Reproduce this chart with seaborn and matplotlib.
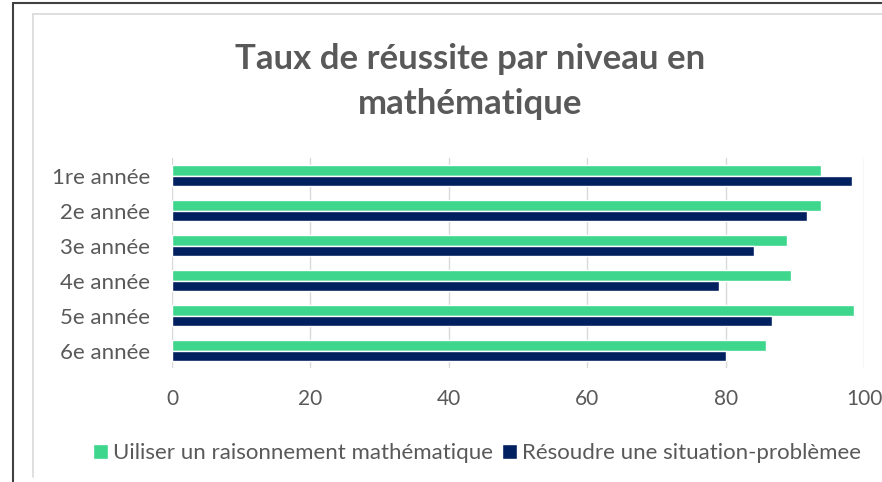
import matplotlib
matplotlib.use('Agg')
import matplotlib.pyplot as plt
import seaborn as sns
import pandas as pd
from matplotlib.lines import Line2D

niveaux = ['1re année', '2e année', '3e année', '4e année', '5e année', '6e année']
raisonnement = [93.8, 93.8, 88.9, 89.5, 98.5, 85.9]
resoudre = [98.3, 91.7, 84.1, 79.1, 86.7, 80.0]
series = ['Uiliser un raisonnement mathématique', 'Résoudre une situation-problèmee']
couleurs = ['#3DD68C', '#002060']

df = pd.DataFrame({
    'Niveau': niveaux * 2,
    'Taux': raisonnement + resoudre,
    'Serie': [series[0]] * len(niveaux) + [series[1]] * len(niveaux),
})

sns.set_style('white')
plt.rcParams['font.family'] = ['Lato', 'DejaVu Sans']
gris = '#595959'

fig = plt.figure(figsize=(8.82, 4.82), dpi=100)
ax = fig.add_axes([0.195, 0.2365, 0.7846, 0.4355])

sns.barplot(data=df, y='Niveau', x='Taux', hue='Serie', palette=couleurs,
            orient='h', width=0.58, ax=ax, legend=True, saturation=1)

ax.set_xlim(0, 100)
ax.set_xticks([0, 20, 40, 60, 80, 100])
ax.set_xlabel('')
ax.set_ylabel('')
ax.grid(axis='x', color='#D9D9D9', linewidth=1)
ax.set_axisbelow(True)
for s in ax.spines.values():
    s.set_visible(False)
ax.tick_params(axis='y', length=0, pad=16, labelsize=16, labelcolor=gris)
ax.tick_params(axis='x', length=0, pad=15, labelsize=15, labelcolor=gris)

handles, labels = ax.get_legend_handles_labels()
ax.get_legend().remove()
fig.legend(handles, labels, loc='center', bbox_to_anchor=(0.541, 0.06), ncol=2,
           frameon=False, fontsize=16, labelcolor=gris, handlelength=0.65,
           handleheight=0.65, handletextpad=0.25, columnspacing=0.4)

fig.text(0.533, 0.831, 'Taux de réussite par niveau en\nmathématique', ha='center',
         va='center', fontsize=25, fontweight='bold', color=gris, linespacing=1.5)

# cadres
fig.add_artist(Line2D([0.0147, 1], [0.9938, 0.9938], color='#404040', lw=1.5))
fig.add_artist(Line2D([0.0147, 0.0147], [0, 0.9938], color='#404040', lw=1.5))
fig.add_artist(Line2D([0.0374, 1], [0.971, 0.971], color='#D9D9D9', lw=1.2))
fig.add_artist(Line2D([0.0374, 0.0374], [0.0104, 0.971], color='#D9D9D9', lw=1.2))

fig.savefig('out.png', dpi=100)
